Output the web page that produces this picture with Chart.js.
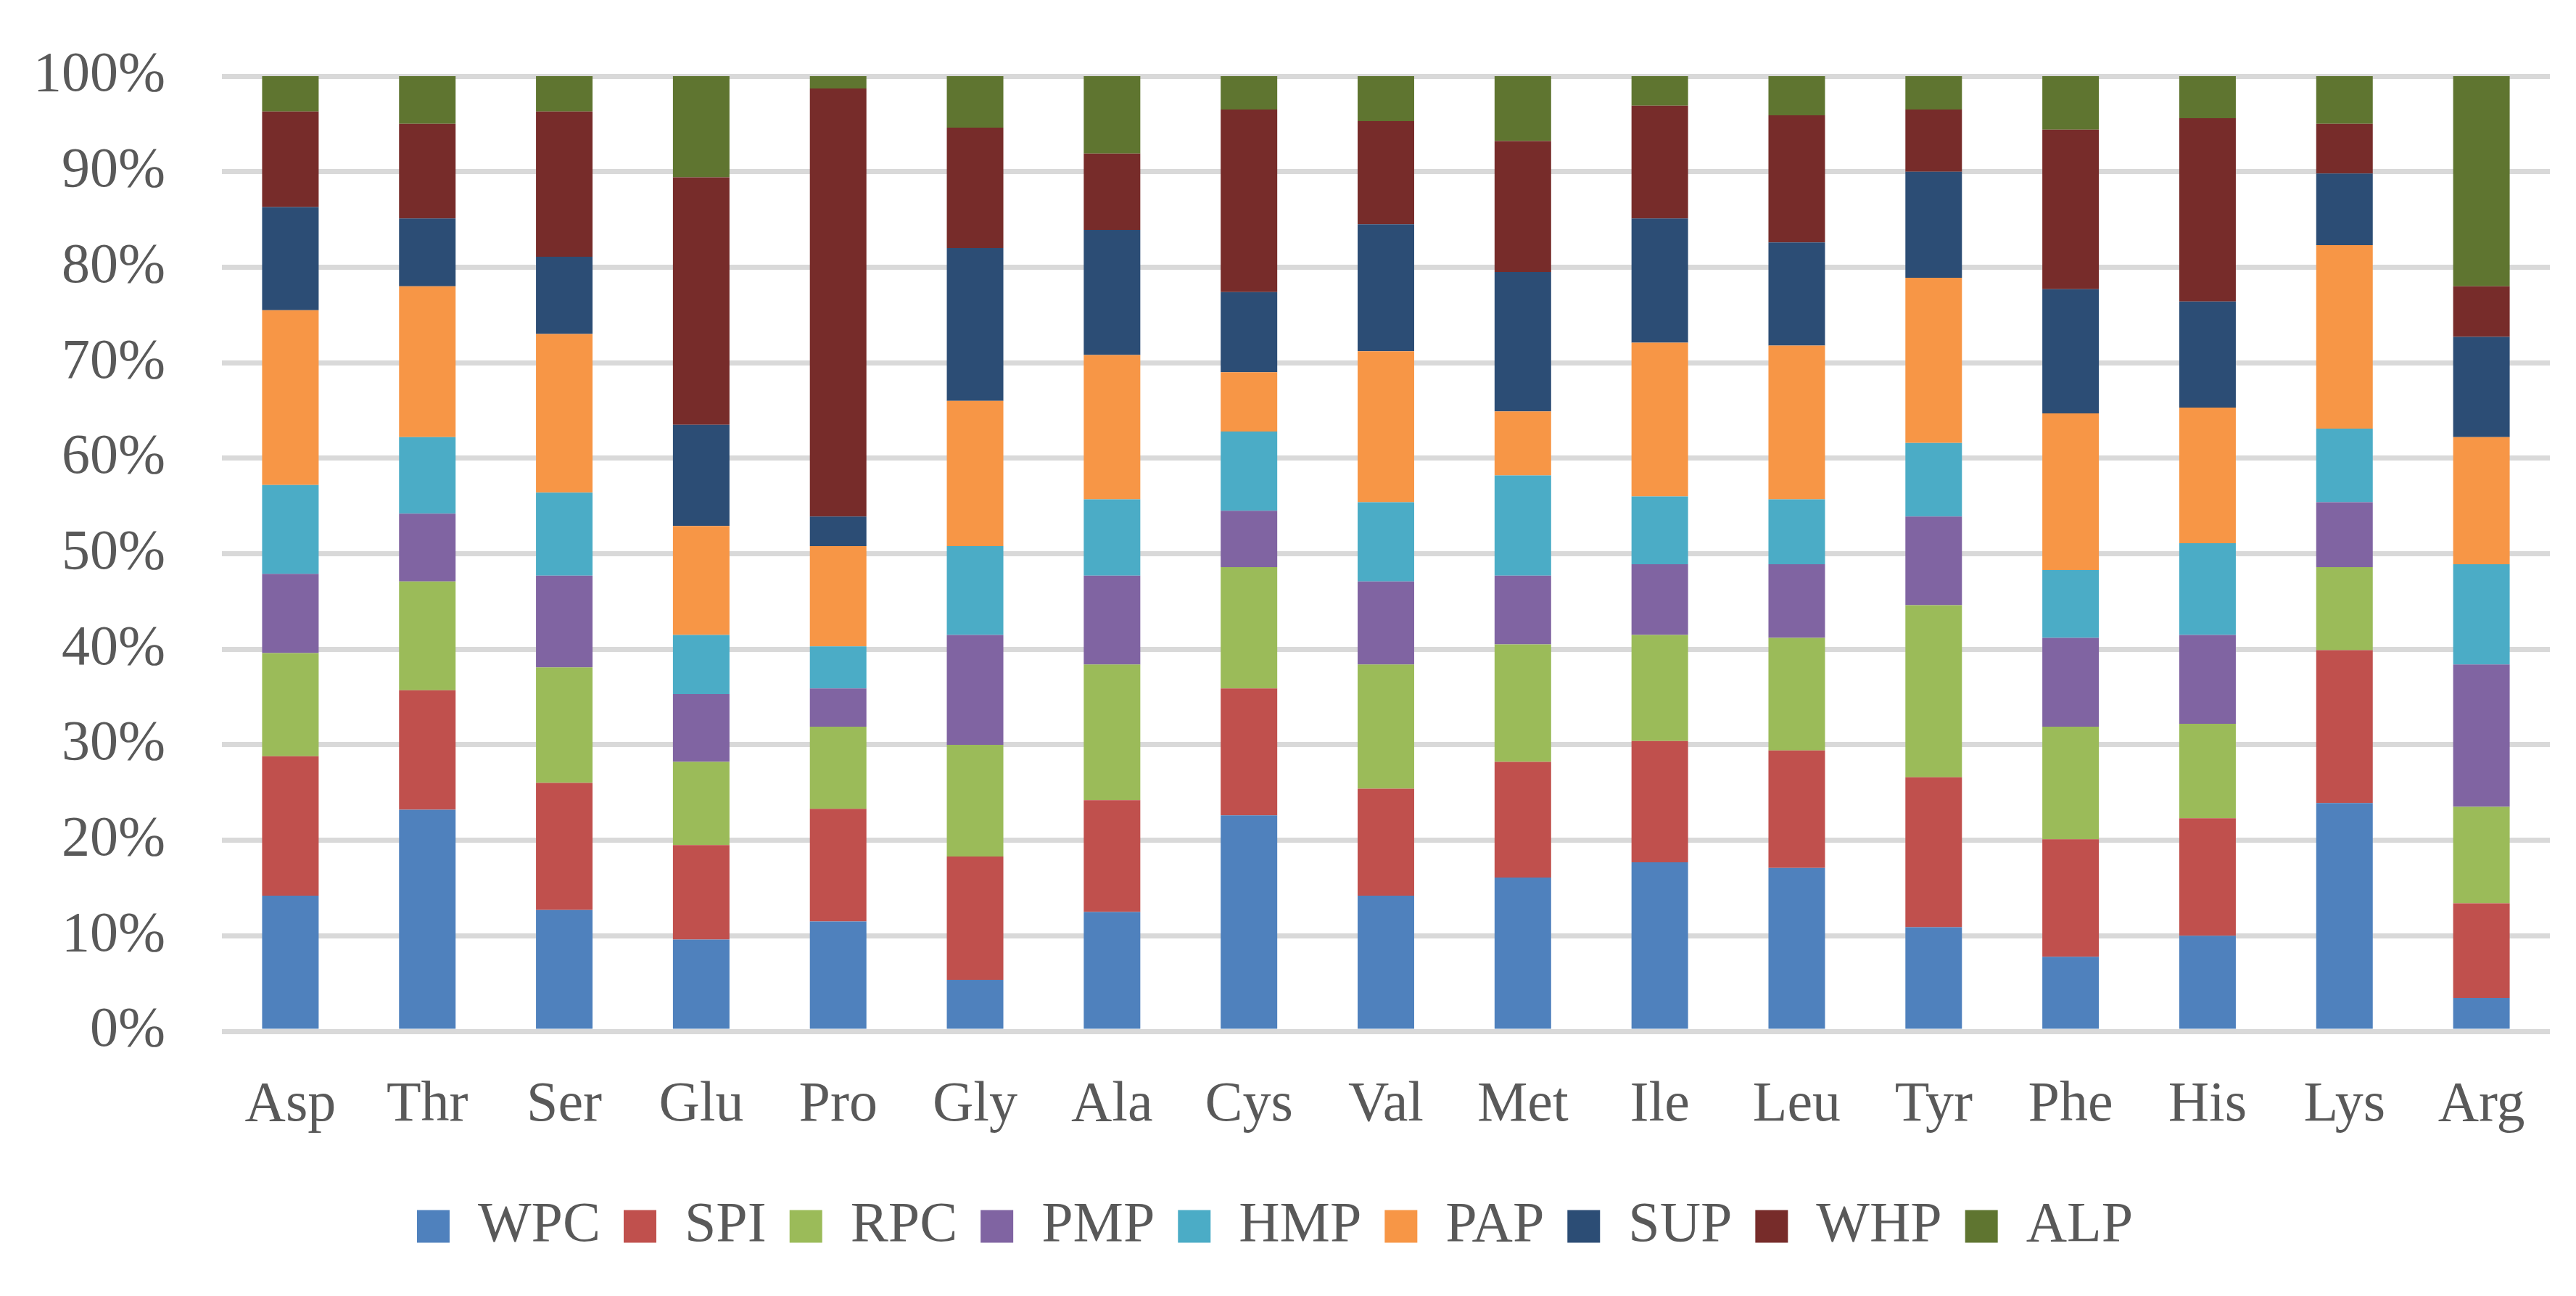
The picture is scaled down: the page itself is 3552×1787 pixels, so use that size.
<!DOCTYPE html>
<html>
<head>
<meta charset="utf-8">
<script src="https://cdn.jsdelivr.net/npm/chart.js@4/dist/chart.umd.min.js"></script>
<style>
  html, body { margin: 0; padding: 0; background: #fff; }
  #wrap { width: 3552px; height: 1787px; }
</style>
</head>
<body>
<div id="wrap"><canvas id="chart" width="3552" height="1787"></canvas></div>
<script>
// amino acids on the x axis
var aminoAcids = ["Asp", "Thr", "Ser", "Glu", "Pro", "Gly", "Ala", "Cys", "Val", "Met", "Ile", "Leu", "Tyr", "Phe", "His", "Lys", "Arg"];

// share of each protein source, %
var wpc = [14.2, 23.2, 12.7, 9.6, 11.5, 5.4, 12.5, 22.6, 14.2, 16.1, 17.7, 17.1, 10.9, 7.8, 10.0, 23.9, 3.5];
var spi = [14.6, 12.5, 13.3, 9.9, 11.8, 12.9, 11.7, 13.3, 11.2, 12.1, 12.7, 12.3, 15.7, 12.3, 12.3, 16.0, 9.9];
var rpc = [10.8, 11.4, 12.1, 8.7, 8.6, 11.7, 14.2, 12.7, 13.0, 12.3, 11.1, 11.8, 18.0, 11.8, 9.9, 8.7, 10.1];
var pmp = [8.3, 7.1, 9.6, 7.1, 4.0, 11.5, 9.3, 5.9, 8.7, 7.2, 7.4, 7.7, 9.3, 9.3, 9.3, 6.8, 14.9];
var hmp = [9.3, 8.0, 8.7, 6.2, 4.4, 9.3, 8.0, 8.3, 8.3, 10.5, 7.1, 6.8, 7.7, 7.1, 9.6, 7.7, 10.5];
var pap = [18.3, 15.8, 16.6, 11.4, 10.5, 15.2, 15.1, 6.2, 15.8, 6.7, 16.1, 16.1, 17.3, 16.4, 14.2, 19.2, 13.3];
var sup = [10.8, 7.1, 8.1, 10.6, 3.1, 16.0, 13.1, 8.4, 13.3, 14.6, 13.0, 10.8, 11.1, 13.0, 11.1, 7.5, 10.5];
var whp = [10.0, 9.9, 15.2, 25.9, 44.8, 12.6, 8.0, 19.1, 10.8, 13.7, 11.8, 13.3, 6.5, 16.7, 19.2, 5.2, 5.3];
var alp = [3.7, 5.0, 3.7, 10.6, 1.3, 5.4, 8.1, 3.5, 4.7, 6.8, 3.1, 4.1, 3.5, 5.6, 4.4, 5.0, 22.0];

var yTicks = [0, 10, 20, 30, 40, 50, 60, 70, 80, 90, 100];

var seriesNames = ["WPC", "SPI", "RPC", "PMP", "HMP", "PAP", "SUP", "WHP", "ALP"];
var seriesData = [wpc, spi, rpc, pmp, hmp, pap, sup, whp, alp];
var seriesColors = ["#4F81BD", "#C0504D", "#9BBB59", "#8064A2", "#4BACC6", "#F79646", "#2C4D75", "#772C2A", "#5F7530"];

var textColor = "#595959";
var fontFamily = "'Liberation Serif', 'DejaVu Serif', serif";
var fontSize = 78;

var datasets = seriesNames.map(function(name, i) {
    return {
        label: name,
        data: seriesData[i],
        backgroundColor: seriesColors[i],
        borderWidth: 0,
        barPercentage: 0.413,
        categoryPercentage: 1.0
    };
});

var ctx = document.getElementById("chart").getContext("2d");
new Chart(ctx, {
    type: "bar",
    data: {
        labels: aminoAcids,
        datasets: datasets
    },
    options: {
        responsive: false,
        animation: false,
        devicePixelRatio: 1,
        layout: {
            padding: { top: 105, right: 36, bottom: 47, left: 0 }
        },
        plugins: {
            tooltip: { enabled: false },
            legend: {
                position: "bottom",
                labels: {
                    color: textColor,
                    font: { family: fontFamily, size: fontSize },
                    boxWidth: 45,
                    boxHeight: 45,
                    padding: 32
                }
            }
        },
        scales: {
            x: {
                stacked: true,
                grid: { display: false, drawTicks: false },
                border: { display: false },
                ticks: {
                    color: textColor,
                    font: { family: fontFamily, size: fontSize },
                    padding: 56,
                    maxRotation: 0,
                    autoSkip: false
                },
                afterFit: function(scale) { scale.height = 198; }
            },
            y: {
                stacked: true,
                min: 0,
                max: 100,
                afterBuildTicks: function(scale) {
                    scale.ticks = yTicks.map(function(v) { return { value: v }; });
                },
                grid: { color: "#D9D9D9", lineWidth: 7, drawTicks: false },
                border: { display: false },
                ticks: {
                    color: textColor,
                    font: { family: fontFamily, size: fontSize },
                    padding: 78,
                    callback: function(value) { return value + "%"; }
                },
                afterFit: function(scale) {
                    scale.width = 306;
                    // label padding should not push the plot down
                    scale.paddingTop = 0;
                    scale.paddingBottom = 0;
                }
            }
        }
    }
});
</script>
</body>
</html>
